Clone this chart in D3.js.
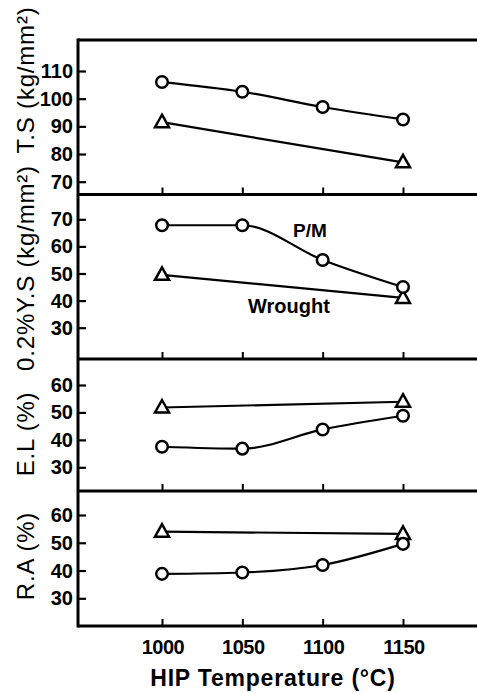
<!DOCTYPE html>
<html><head><meta charset="utf-8">
<script src="https://cdn.jsdelivr.net/npm/d3@7"></script>
<style>
html,body{margin:0;padding:0;background:#fff;}
svg{display:block;}
text{font-family:"Liberation Sans",Arial,sans-serif;fill:#000;}
</style></head>
<body>
<svg id="chart" width="477" height="693"></svg>
<script>
// ---- data ----
const temps = [1000, 1050, 1100, 1150];
const wroughtTemps = [1000, 1150];
const xTicks = [1000, 1050, 1100, 1150];

const tsPM = [106, 102.5, 97, 92.5];
const tsW = [91.5, 77];
const ysPM = [67.8, 67.8, 55, 45];
const ysW = [49.5, 41];
const elPM = [37.5, 36.8, 43.8, 48.8];
const elW = [51.8, 53.9];
const raPM = [38.8, 39.3, 42, 49.6];
const raW = [54, 53.2];

const tsTicks = [70, 80, 90, 100, 110];
const ysTicks = [30, 40, 50, 60, 70];
const elTicks = [30, 40, 50, 60];
const raTicks = [30, 40, 50, 60];

const xTitle = "HIP Temperature (°C)";

// ---- layout ----
const svg = d3.select("#chart");
const left = 78, right = 477;
const x = d3.scaleLinear().domain([1000, 1150]).range([162, 403]);

const panels = [
  {top: 40, bottom: 194.5, dom: [70, 110], rng: [181.7, 71], ticks: tsTicks, pm: tsPM, w: tsW, title: "T.S (kg/mm²)", tc: 80},
  {top: 194.5, bottom: 359, dom: [30, 70], rng: [327.7, 219.3], ticks: ysTicks, pm: ysPM, w: ysW, title: "0.2%Y.S (kg/mm²)", tc: 268},
  {top: 359, bottom: 491, dom: [30, 60], rng: [467.3, 385], ticks: elTicks, pm: elPM, w: elW, title: "E.L (%)", tc: 434},
  {top: 491, bottom: 626, dom: [30, 60], rng: [598.3, 515], ticks: raTicks, pm: raPM, w: raW, title: "R.A (%)", tc: 556}
];

const triPath = "M0,-7.5L7,5L-7,5Z";

panels.forEach((p, i) => {
  const y = d3.scaleLinear().domain(p.dom).range(p.rng);
  const g = svg.append("g");

  const ya = d3.axisRight(y).tickValues(p.ticks).tickSize(8).tickFormat("");
  const yg = g.append("g").attr("transform", `translate(${left},0)`).call(ya);
  yg.select(".domain").remove();
  yg.selectAll(".tick line").attr("stroke", "#000").attr("stroke-width", 2.2);
  g.selectAll("text.yl").data(p.ticks).join("text")
    .attr("class", "yl")
    .attr("x", left - 5).attr("y", d => y(d) + 7)
    .attr("text-anchor", "end")
    .attr("font-size", 20).attr("font-weight", "bold")
    .text(d => d);

  const xa = d3.axisTop(x).tickValues(xTicks).tickSize(7).tickFormat("");
  const xg = g.append("g").attr("transform", `translate(0,${p.bottom})`).call(xa);
  xg.select(".domain").remove();
  xg.selectAll(".tick line").attr("stroke", "#000").attr("stroke-width", 2);

  g.append("line").attr("x1", left).attr("x2", right)
    .attr("y1", p.bottom).attr("y2", p.bottom)
    .attr("stroke", "#000").attr("stroke-width", 3);

  g.append("text")
    .attr("transform", `translate(34,${p.tc}) rotate(-90)`)
    .attr("text-anchor", "middle")
    .attr("font-size", 24).attr("letter-spacing", 0.8)
    .text(p.title);

  const pmLine = d3.line().x((d, j) => x(temps[j])).y(d => y(d)).curve(d3.curveMonotoneX);
  g.append("path").datum(p.pm).attr("d", pmLine)
    .attr("fill", "none").attr("stroke", "#000").attr("stroke-width", 2.2);
  const wLine = d3.line().x((d, j) => x(wroughtTemps[j])).y(d => y(d));
  g.append("path").datum(p.w).attr("d", wLine)
    .attr("fill", "none").attr("stroke", "#000").attr("stroke-width", 2.2);

  g.selectAll("path.tri").data(p.w).join("path").attr("class", "tri")
    .attr("d", triPath)
    .attr("transform", (d, j) => `translate(${x(wroughtTemps[j])},${y(d)})`)
    .attr("fill", "#fff").attr("stroke", "#000").attr("stroke-width", 2.5);
  g.selectAll("circle.pm").data(p.pm).join("circle").attr("class", "pm")
    .attr("cx", (d, j) => x(temps[j])).attr("cy", d => y(d)).attr("r", 5.8)
    .attr("fill", "#fff").attr("stroke", "#000").attr("stroke-width", 2.5);

  if (i === 1) {
    g.append("text").attr("x", 293).attr("y", 237).attr("font-size", 19).attr("font-weight", "bold").text("P/M");
    g.append("text").attr("x", 248).attr("y", 313).attr("font-size", 20).attr("font-weight", "bold").text("Wrought");
  }
});

svg.append("line").attr("x1", left).attr("x2", right).attr("y1", 40).attr("y2", 40)
  .attr("stroke", "#000").attr("stroke-width", 3);
svg.append("line").attr("x1", left).attr("x2", left).attr("y1", 38.5).attr("y2", 627.5)
  .attr("stroke", "#000").attr("stroke-width", 3);

svg.selectAll("text.xl").data(xTicks).join("text").attr("class", "xl")
  .attr("x", d => x(d) + 1).attr("y", 654)
  .attr("text-anchor", "middle").attr("font-size", 20).attr("font-weight", "bold")
  .attr("letter-spacing", -0.5)
  .text(d => d);

svg.append("text").attr("x", 273).attr("y", 686)
  .attr("text-anchor", "middle").attr("font-size", 23).attr("font-weight", "bold")
  .attr("letter-spacing", 0.8)
  .text(xTitle);
</script>
</body></html>
